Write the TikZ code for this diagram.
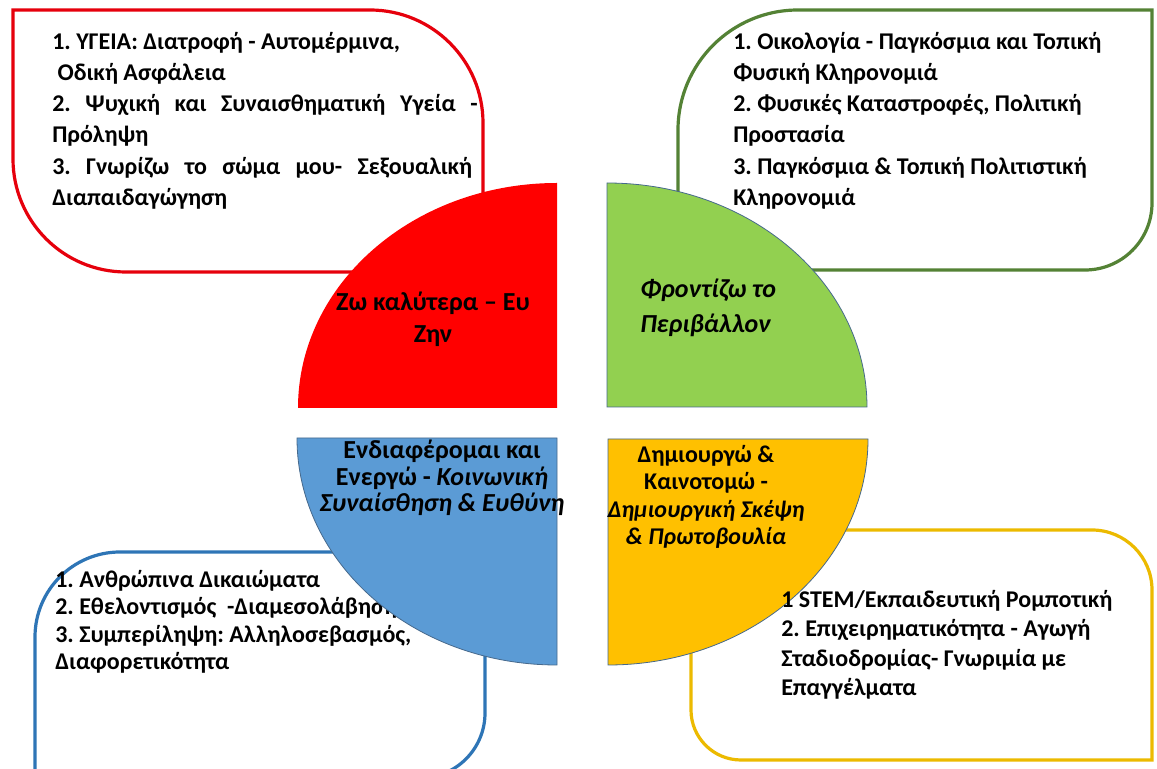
\documentclass[tikz,border=0pt]{standalone}
\usepackage{fontspec}
\setmainfont{Carlito}
\frenchspacing
\usetikzlibrary{positioning}

\definecolor{zwred}{RGB}{255,0,0}
\definecolor{zwredline}{RGB}{230,0,12}
\definecolor{envgreen}{RGB}{146,208,80}
\definecolor{envgreenline}{RGB}{84,130,53}
\definecolor{socblue}{RGB}{91,155,213}
\definecolor{socblueline}{RGB}{46,117,182}
\definecolor{creyellow}{RGB}{255,192,0}
\definecolor{creyellowline}{RGB}{236,186,0}
\definecolor{wedgeline}{RGB}{70,105,140}

\tikzset{
  topicbox/.style={line width=2.4pt, fill=white},
  wedgeedge/.style={draw=wedgeline, line width=0.6pt},
  listtext/.style={anchor=north west, inner sep=0pt, align=left,
    font=\fontsize{18}{23.4}\selectfont\bfseries},
  wedgetext/.style={inner sep=0pt, align=center,
    font=\fontsize{19.5}{20}\selectfont\bfseries},
}

\begin{document}
\begin{tikzpicture}[x=0.75pt, y=0.75pt]
  \fill[white] (0,0) rectangle (1157,768);
  \useasboundingbox (0,0) rectangle (1157,768);

  % frames of the four topics
  \draw[topicbox, draw=zwredline] (13,758) -- (370,758)
    arc[start angle=90, end angle=0, radius=113] -- (483,496) -- (126,496)
    arc[start angle=270, end angle=180, radius=113] -- cycle;
  \draw[topicbox, draw=envgreenline] (678,498) -- (678,638)
    arc[start angle=180, end angle=90, radius=120] -- (1152,758) -- (1152,565)
    arc[start angle=0, end angle=-90, radius=67] -- cycle;
  \draw[topicbox, draw=socblueline] (35,-10) -- (35,131)
    arc[start angle=180, end angle=90, radius=85] -- (485,216) -- (485,55)
    arc[start angle=0, end angle=-90, radius=65] -- cycle;
  \draw[topicbox, draw=creyellowline] (691,238) -- (691,58)
    arc[start angle=180, end angle=270, radius=50] -- (1152,8) -- (1152,178)
    arc[start angle=0, end angle=90, radius=60] -- cycle;

  \node[listtext, font=\fontsize{18}{20.6}\selectfont\bfseries] (bluelist) at (55,198)
    {1. Ανθρώπινα Δικαιώματα\\
     2. Εθελοντισμός \ -Διαμεσολάβηση,\\
     3. Συμπερίληψη: Αλληλοσεβασμός,\\
     Διαφορετικότητα};

  % the four quarters
  \fill[zwred] (557,360) -- (298,360)
    arc[start angle=180, end angle=90, x radius=259, y radius=225] -- cycle;
  \filldraw[wedgeedge, fill=envgreen] (607,361) -- (607,585)
    arc[start angle=90, end angle=0, x radius=260, y radius=224] -- cycle;
  \filldraw[wedgeedge, fill=socblue] (557,330) -- (297,330)
    arc[start angle=180, end angle=270, x radius=260, y radius=227] -- cycle;
  \filldraw[wedgeedge, fill=creyellow] (608,329) -- (608,103)
    arc[start angle=270, end angle=360, x radius=260, y radius=226] -- cycle;

  \node[listtext] (redlist) at (52,736)
    {1. ΥΓΕΙΑ: Διατροφή - Αυτομέρμινα,\\
     \hspace{4pt}Οδική Ασφάλεια\\
     \makebox[319pt][s]{2. Ψυχική και Συναισθηματική Υγεία -}\\
     Πρόληψη\\
     \makebox[315pt][s]{3. Γνωρίζω το σώμα μου- Σεξουαλική}\\
     Διαπαιδαγώγηση};
  \node[listtext] (greenlist) at (733,736)
    {1. Οικολογία - Παγκόσμια και Τοπική\\
     Φυσική Κληρονομιά\\
     2. Φυσικές Καταστροφές, Πολιτική\\
     Προστασία\\
     3. Παγκόσμια \& Τοπική Πολιτιστική\\
     Κληρονομιά};
  \node[listtext, font=\fontsize{18}{22}\selectfont\bfseries] (yellowlist) at (781,178)
    {1 STEM/Εκπαιδευτική Ρομποτική\\
     2. Επιχειρηματικότητα - Αγωγή\\
     Σταδιοδρομίας- Γνωριμία με\\
     Επαγγέλματα};

  % titles
  \node[wedgetext, font=\fontsize{19.5}{24}\selectfont\bfseries] (redtitle) at (433,449)
    {Ζω καλύτερα – Ευ\\Ζην};
  \node[wedgetext, anchor=west, align=left,
    font=\fontsize{19.5}{26}\selectfont\bfseries\itshape] (greentitle) at (640,460)
    {Φροντίζω το\\Περιβάλλον};
  \node[wedgetext] (bluetitle) at (442,290)
    {Ενδιαφέρομαι και\\Ενεργώ - \textit{Κοινωνική}\\\textit{Συναίσθηση \& Ευθύνη}};
  \node[wedgetext, font=\fontsize{18}{20.5}\selectfont\bfseries] (yellowtitle) at (706,271)
    {Δημιουργώ \&\\Καινοτομώ -\\\textit{Δημιουργική Σκέψη}\\\textit{\& Πρωτοβουλία}};
\end{tikzpicture}
\end{document}
